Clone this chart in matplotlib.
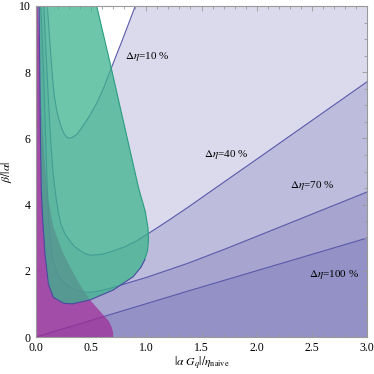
# Efficiency regions vs |alpha G_q|/eta_naive, Mathematica-like region plot

import numpy as np
import matplotlib.pyplot as plt
from matplotlib.ticker import MultipleLocator

plt.rcParams['mathtext.fontset'] = 'stix'
plt.rcParams['font.family'] = ['Liberation Serif', 'DejaVu Serif']

# contour lines of constant delta eta
eta10_x = [0.103, 0.115, 0.13, 0.148, 0.165, 0.19, 0.218, 0.248, 0.275, 0.30, 0.33,
           0.37, 0.42, 0.48, 0.55, 0.61, 0.67, 0.78, 0.90]
eta10_y = [10.0, 9.4, 8.7, 7.9, 7.3, 6.8, 6.45, 6.18, 6.05, 6.0, 6.03,
           6.12, 6.35, 6.65, 7.06, 7.5, 8.02, 8.95, 10.0]

eta40_x = [0.072, 0.085, 0.10, 0.115, 0.132, 0.153, 0.178, 0.20, 0.224, 0.26, 0.30,
           0.35, 0.405, 0.45, 0.50, 0.60, 0.70, 0.80, 0.90, 1.02, 1.2, 1.369,
           1.656, 2.0, 2.5, 3.0]
eta40_y = [10.0, 9.0, 8.0, 7.0, 6.0, 5.0, 4.3, 3.8, 3.43, 3.13, 2.93,
           2.73, 2.6, 2.51, 2.47, 2.5, 2.6, 2.72, 2.88, 3.13, 3.52, 3.9,
           4.57, 5.37, 6.54, 7.71]

eta70_x = [0.043, 0.056, 0.068, 0.078, 0.088, 0.097, 0.106, 0.118, 0.133, 0.152,
           0.185, 0.224, 0.28, 0.345, 0.42, 0.50, 0.60, 0.70, 1.0, 1.37, 1.7,
           2.0, 2.5, 3.0]
eta70_y = [10.0, 9.0, 8.0, 7.0, 6.0, 5.0, 4.2, 3.4, 2.8, 2.35,
           1.98, 1.74, 1.56, 1.44, 1.36, 1.35, 1.41, 1.50, 1.80, 2.22, 2.64,
           3.04, 3.71, 4.38]

eta100_x = [0.0, 1.37, 3.0]
eta100_y = [0.0, 1.38, 2.99]

# magenta region (left / bottom corner)
mag_x = [0.0, 0.70, 0.698, 0.685, 0.66, 0.595, 0.49, 0.40, 0.308, 0.233, 0.157, 0.112,
         0.08, 0.05, 0.035, 0.02, 0.0]
mag_y = [0.0, 0.0, 0.15, 0.3, 0.48, 0.72, 1.12, 1.57, 2.12, 2.63, 3.33, 4.14,
         5.2, 6.8, 8.0, 10.0, 10.0]

# green region
green_x = [0.55, 0.67, 0.80, 0.93, 0.99, 1.015, 1.02, 1.01, 0.985, 0.95, 0.88, 0.70,
           0.49, 0.33, 0.25, 0.157, 0.112, 0.082, 0.060, 0.048, 0.040, 0.034, 0.028]
green_y = [10.0, 8.3, 6.4, 4.5, 3.8, 3.3, 2.93, 2.6, 2.33, 2.1, 1.82, 1.42,
           1.12, 1.0, 1.02, 1.2, 1.6, 2.5, 3.6, 4.44, 6.0, 8.0, 10.0]

labels = ['10', '40', '70', '100']
label_x = [0.81, 1.52, 2.30, 2.47]
label_y = [8.46, 5.5, 4.59, 1.89]

xmax, ymax = 3.0, 10.0
lav = (75 / 255, 70 / 255, 160 / 255)
line_col = '#5a5aaa'

fig = plt.figure(figsize=(3.74, 3.74), dpi=100)
ax = fig.add_axes([36 / 374, 1 - 337 / 374, 331 / 374, 331 / 374])

# delta eta regions: everything outside each U-shaped contour
ax.fill(eta10_x + [xmax, xmax, 0, 0], eta10_y + [ymax, 0, 0, ymax],
        color=lav, alpha=0.2, lw=0, zorder=1)
for cx, cy in [(eta40_x, eta40_y), (eta70_x, eta70_y)]:
    ax.fill(cx + [xmax, 0, 0], cy + [0, 0, ymax], color=lav, alpha=0.2, lw=0, zorder=1)
ax.fill(eta100_x + [xmax], eta100_y + [0], color=lav, alpha=0.2, lw=0, zorder=1)

for cx, cy in [(eta10_x, eta10_y), (eta40_x, eta40_y), (eta70_x, eta70_y),
               (eta100_x, eta100_y)]:
    ax.plot(cx, cy, color=line_col, lw=0.8, zorder=1.5)

ax.fill(mag_x, mag_y, color=(160 / 255, 40 / 255, 150 / 255), alpha=0.7, lw=0, zorder=1.8)
ax.fill(green_x, green_y, color=(60 / 255, 180 / 255, 140 / 255), alpha=0.75, lw=0,
        zorder=2)
ax.plot(green_x[:9], green_y[:9], color='#2a9d80', lw=0.8, zorder=2.1)
ax.plot(green_x[8:], green_y[8:], color='#4a4aa0', lw=0.8, zorder=2.1)

for t, x, y in zip(labels, label_x, label_y):
    ax.text(x, y, r'$\Delta\eta$=' + t + ' %', fontsize=8, va='center', ha='left',
            zorder=3)

ax.set_xlim(0, xmax)
ax.set_ylim(0, ymax)
ax.xaxis.set_major_locator(MultipleLocator(0.5))
ax.xaxis.set_minor_locator(MultipleLocator(0.1))
ax.yaxis.set_major_locator(MultipleLocator(2))
ax.yaxis.set_minor_locator(MultipleLocator(0.5))
ax.xaxis.set_major_formatter(plt.FormatStrFormatter('%.1f'))
ax.tick_params(which='both', direction='in', top=True, right=True,
               color='#999999', labelsize=8.5, width=0.6)
ax.tick_params(axis='x', pad=3.5)
ax.tick_params(axis='y', pad=4)
ax.tick_params(which='major', length=3.5)
ax.tick_params(which='minor', length=2)
for s in ax.spines.values():
    s.set_color('#999999')
    s.set_linewidth(0.8)
    s.set_zorder(4)

ax.set_xlabel(r'$|\alpha\ G_q|/\eta_{\mathrm{naive}}$', fontsize=8.5, labelpad=1)
ax.set_ylabel(r'$\beta/|\alpha|$', fontsize=8.5, labelpad=3)

fig.savefig('out.png', dpi=100)
